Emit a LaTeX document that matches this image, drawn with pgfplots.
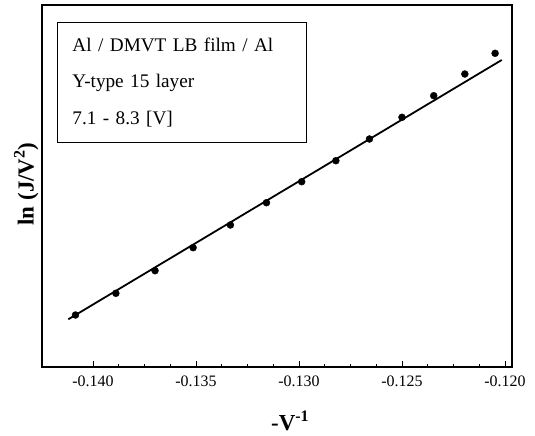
\documentclass[border=0pt]{standalone}
\usepackage{fontspec}
\setmainfont{Liberation Serif}
\usepackage{pgfplots}
\pgfplotsset{compat=1.18}
\begin{document}
\begin{tikzpicture}
\begin{axis}[
  scale only axis,
  width=470bp, height=362bp,
  xmin=-0.142476, xmax=-0.11966,
  ymin=0, ymax=362,
  axis line style={line width=1.1pt},
  xtick={-0.140,-0.135,-0.130,-0.125,-0.120},
  xticklabels={-0.140,-0.135,-0.130,-0.125,-0.120},
  minor x tick num=3,
  xtick pos=bottom,
  tick align=inside,
  major tick length=6bp,
  minor tick length=3bp,
  tick style={line width=0.9pt, black},
  ytick=\empty,
  ticklabel style={font=\fontsize{16}{19}\selectfont},
  xticklabel style={yshift=-5bp},
  xlabel={\textbf{-V\textsuperscript{-1}}},
  xlabel style={at={(rel axis cs:0.528,0)}, anchor=north, yshift=-40bp, font=\fontsize{23}{27}\selectfont},
  ylabel={\textbf{ln (J/V\textsuperscript{2})}},
  ylabel style={at={(rel axis cs:0,0.55)}, anchor=south, rotate=0, xshift=-16bp, font=\fontsize{23}{27}\selectfont},
  clip=false,
]
\addplot[black, line width=1.8pt] coordinates {(-0.141199,47.7) (-0.120160,307)};
\addplot[only marks, mark=*, mark size=3.5pt, black] coordinates {
(-0.14085,52)
(-0.13889,73.7)
(-0.13699,96.3)
(-0.13514,119.3)
(-0.13333,142)
(-0.13158,164.3)
(-0.12987,185.3)
(-0.12821,206.3)
(-0.12658,228)
(-0.12500,249.7)
(-0.12346,271.3)
(-0.12195,293)
(-0.12048,313.7)
};
\node[draw, line width=1pt, anchor=north west, align=left, minimum width=249bp, minimum height=120bp,
  text width=219bp, inner xsep=15bp, font=\fontsize{19.3}{36.5}\selectfont]
  at (rel axis cs:0.0319,0.953) {Al / DMVT LB film / Al\\Y-type 15 layer\\7.1 - 8.3 [V]};
\end{axis}
\pgfresetboundingbox
\path (current axis.south west) ++(-42bp,-69bp) rectangle ++(535bp,436bp);
\end{tikzpicture}
\end{document}
